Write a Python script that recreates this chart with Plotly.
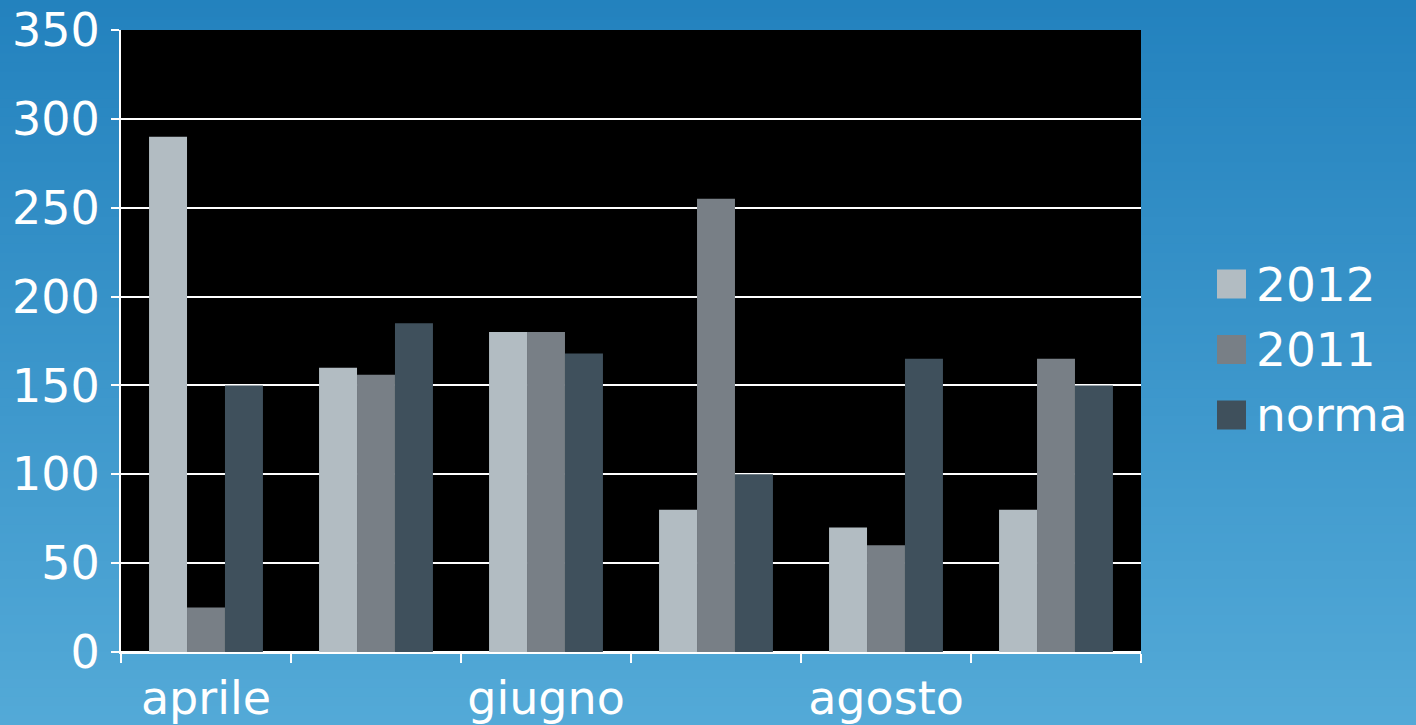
import plotly.graph_objects as go

# ---- data ----
months = ["aprile", "maggio", "giugno", "luglio", "agosto", "settembre"]
x_tick_labels = ["aprile", "", "giugno", "", "agosto", ""]
series_names = ["2012", "2011", "norma"]
values_2012 = [290, 160, 180, 80, 70, 80]
values_2011 = [25, 156, 180, 255, 60, 165]
values_norma = [150, 185, 168, 100, 165, 150]
series_values = [values_2012, values_2011, values_norma]
series_colors = ["#B2BCC2", "#787F86", "#3F505C"]

# ---- layout geometry (pixels) ----
W, H = 1416, 725
L, R, T, B = 121, 275, 30, 73
pw, ph = W - L - R, H - T - B


def px_x(px):
    return (px - L) / pw


def px_y(py):
    return (H - B - py) / ph


FONT = "DejaVu Sans"

fig = go.Figure()
for name, vals, col in zip(series_names, series_values, series_colors):
    fig.add_trace(go.Bar(x=months, y=vals, name=name, marker_color=col,
                         marker_line_width=0))

shapes = []
# background vertical gradient
top_rgb = (35, 130, 190)
bot_rgb = (83, 169, 215)
n = 80
for i in range(n):
    t = i / (n - 1)
    c = tuple(round(top_rgb[k] + (bot_rgb[k] - top_rgb[k]) * t) for k in range(3))
    y0 = i * H / n - 1
    y1 = (i + 1) * H / n + 1
    shapes.append(dict(type="rect", xref="paper", yref="paper", layer="below",
                       x0=px_x(-5), x1=px_x(W + 5), y0=px_y(y1), y1=px_y(y0),
                       fillcolor="rgb(%d,%d,%d)" % c, line_width=0))
# black plot area
shapes.append(dict(type="rect", xref="paper", yref="paper", layer="below",
                   x0=0, x1=1, y0=0, y1=1, fillcolor="black", line_width=0))

# manual legend
legend_centers = [284, 349.5, 415]
annotations = []
for name, col, cy in zip(series_names, series_colors, legend_centers):
    shapes.append(dict(type="rect", xref="paper", yref="paper",
                       x0=px_x(1217), x1=px_x(1246),
                       y0=px_y(cy + 14.5), y1=px_y(cy - 14.5),
                       fillcolor=col, line_width=0, layer="above"))
    annotations.append(dict(xref="paper", yref="paper", x=px_x(1254), y=px_y(cy),
                            text=name, showarrow=False, xanchor="left",
                            yanchor="middle",
                            font=dict(family=FONT, size=47, color="white")))

fig.update_layout(
    width=W, height=H,
    margin=dict(l=L, r=R, t=T, b=B, pad=0),
    paper_bgcolor="#3A96CB",
    plot_bgcolor="rgba(0,0,0,0)",
    barmode="group", bargap=0.33, bargroupgap=0,
    showlegend=False,
    font=dict(family=FONT, color="white", size=46),
    shapes=shapes,
    annotations=annotations,
    xaxis=dict(type="category", tickmode="array", tickvals=months,
               ticktext=x_tick_labels, tickson="boundaries",
               ticks="outside", ticklen=9, tickwidth=2, tickcolor="white",
               showline=True, linecolor="white", linewidth=2,
               showgrid=False, automargin=False, ticklabelstandoff=5,
               tickfont=dict(family=FONT, size=46, color="white")),
    yaxis=dict(range=[0, 350], dtick=50, tick0=0,
               ticks="outside", ticklen=8, tickwidth=2, tickcolor="white",
               showline=True, linecolor="white", linewidth=2,
               showgrid=True, gridcolor="white", gridwidth=2,
               zeroline=True, zerolinecolor="white", zerolinewidth=2,
               ticklabelstandoff=2, automargin=False,
               tickfont=dict(family=FONT, size=46, color="white")),
)

fig.write_html(
    "out.html",
    config={"displayModeBar": False},
    post_script=(
        "document.body.style.margin='0';"
        "document.body.style.padding='0';"
        "document.body.style.overflow='hidden';"
        "document.documentElement.style.overflow='hidden';"
    ),
)
